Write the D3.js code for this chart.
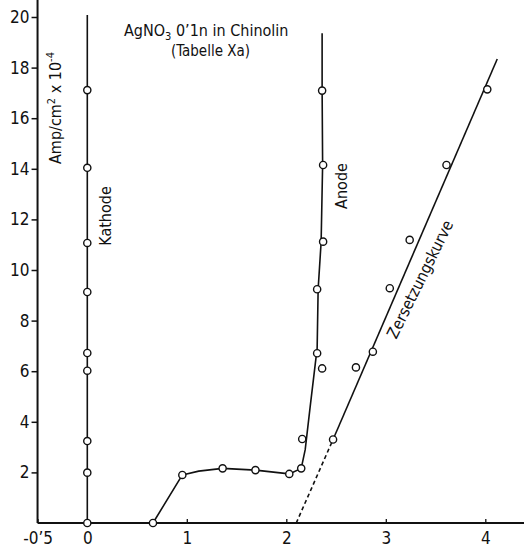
<!DOCTYPE html>
<html>
<head>
<meta charset="utf-8">
<script src="https://cdn.jsdelivr.net/npm/d3@7"></script>
<style>
  body { margin: 0; background: white; }
  svg text { font-family: "DejaVu Sans Condensed", "DejaVu Sans", sans-serif; font-stretch: condensed; fill: #111; }
</style>
</head>
<body>
<div id="graf"></div>
<script>
// Datos (x en Volt, y en Amp/cm2 x 10^-4)
const xTicks = [-0.5, 0, 1, 2, 3, 4]
const xTickLabels = ['-0’5', '0', '1', '2', '3', '4']
const yTicks = [2, 4, 6, 8, 10, 12, 14, 16, 18, 20]

// Kathode
const kathodeLine = [[0, 0], [0, 20.08]]
const kathodePoints = [[0, 17.11], [0, 14.04], [0, 11.07], [0, 9.13], [0, 6.72], [0, 6.02], [0, 3.24], [0, 1.99], [0, 0]]

// Anode (incluye el tramo bajo)
const anodeLine = [[0.66, 0], [0.955, 1.9], [1.12, 2.05], [1.36, 2.16], [1.69, 2.09], [2.03, 1.94], [2.15, 2.16],
  [2.19, 2.9], [2.24, 4.6], [2.29, 6.25], [2.31, 6.9], [2.32, 9.25], [2.35, 11.1], [2.365, 14.15], [2.36, 17.1], [2.36, 19.36]]
const anodePoints = [[0.66, 0], [0.955, 1.9], [1.36, 2.16], [1.69, 2.09], [2.03, 1.94], [2.15, 2.16], [2.16, 3.32],
  [2.31, 6.71], [2.36, 6.11], [2.31, 9.24], [2.37, 11.12], [2.37, 14.15], [2.36, 17.09]]

// Zersetzungskurve
const zersDashed = [[2.1, 0], [2.47, 3.3]]
const zersLine = [[2.47, 3.3], [4.12, 18.34]]
const zersPoints = [[2.47, 3.3], [2.7, 6.15], [2.87, 6.77], [3.04, 9.28], [3.24, 11.19], [3.61, 14.15], [4.02, 17.14]]

const draw = () => {
  const anchoTotal = 524
  const altoTotal = 549

  const svg = d3.select('#graf')
    .append('svg')
    .attr('width', anchoTotal)
    .attr('height', altoTotal)

  // Escaladores
  const x = d3.scaleLinear().domain([0, 4]).range([87.3, 485.3])
  const y = d3.scaleLinear().domain([0, 20]).range([523, 17])

  const line = d3.line().x((d) => x(d[0])).y((d) => y(d[1]))

  // Ejes
  const yAxis = svg.append('g')
    .attr('transform', `translate(${x(-0.5)}, 0)`)
    .call(d3.axisLeft(y).tickValues(yTicks).tickSize(6).tickSizeOuter(0).tickPadding(2))
  yAxis.select('.domain').remove()
  yAxis.selectAll('.tick line').attr('stroke', '#111').attr('stroke-width', 1.5)
  yAxis.selectAll('.tick text').attr('font-size', 17).attr('fill', '#111')

  const xAxis = svg.append('g')
    .attr('transform', `translate(0, ${y(0)})`)
    .call(d3.axisBottom(x).tickValues(xTicks).tickSize(-4).tickSizeOuter(0).tickPadding(9)
      .tickFormat((d, i) => xTickLabels[i]))
  xAxis.select('.domain').remove()
  xAxis.selectAll('.tick line').attr('stroke', '#111').attr('stroke-width', 1.3)
  xAxis.selectAll('.tick text').attr('font-size', 17).attr('fill', '#111')

  // Lineas de ejes
  svg.append('line')
    .attr('x1', x(-0.5)).attr('x2', x(-0.5))
    .attr('y1', y(20.7)).attr('y2', y(0))
    .attr('stroke', '#111').attr('stroke-width', 2)
  svg.append('line')
    .attr('x1', x(-0.5)).attr('x2', anchoTotal)
    .attr('y1', y(0)).attr('y2', y(0))
    .attr('stroke', '#111').attr('stroke-width', 2)

  // Curvas
  const g = svg.append('g')

  g.append('path')
    .datum(kathodeLine)
    .attr('d', line)
    .attr('fill', 'none').attr('stroke', '#111').attr('stroke-width', 1.6)

  g.append('path')
    .datum(anodeLine)
    .attr('d', line)
    .attr('fill', 'none').attr('stroke', '#111').attr('stroke-width', 1.6)
    .attr('stroke-linejoin', 'round')

  g.append('path')
    .datum(zersDashed)
    .attr('d', line)
    .attr('fill', 'none').attr('stroke', '#111').attr('stroke-width', 1.6)
    .attr('stroke-dasharray', '4,3')

  g.append('path')
    .datum(zersLine)
    .attr('d', line)
    .attr('fill', 'none').attr('stroke', '#111').attr('stroke-width', 1.6)

  // Puntos
  const allPoints = kathodePoints.concat(anodePoints, zersPoints)
  g.selectAll('.punto')
    .data(allPoints)
    .enter()
    .append('circle')
    .attr('class', 'punto')
    .attr('cx', (d) => x(d[0]))
    .attr('cy', (d) => y(d[1]))
    .attr('r', 3.6)
    .attr('fill', 'white')
    .attr('stroke', '#111')
    .attr('stroke-width', 1.4)

  // Titulos
  const title = svg.append('text')
    .attr('x', 124)
    .attr('y', 36)
    .attr('font-size', 16)
  title.append('tspan').text('AgNO')
  title.append('tspan').attr('dy', 4).attr('font-size', 11).text('3')
  title.append('tspan').attr('dy', -4).text(' 0’1n in Chinolin')

  svg.append('text')
    .attr('x', 171)
    .attr('y', 56)
    .attr('font-size', 15)
    .text('(Tabelle Xa)')

  // Etiqueta eje Y
  const yLabel = svg.append('text')
    .attr('transform', `translate(61, 108) rotate(-90)`)
    .attr('text-anchor', 'middle')
    .attr('font-size', 16)
  yLabel.append('tspan').text('Amp/cm')
  yLabel.append('tspan').attr('dy', -6).attr('font-size', 11).text('2')
  yLabel.append('tspan').attr('dy', 6).text(' x 10')
  yLabel.append('tspan').attr('dy', -7).attr('font-size', 11).text('-4')

  svg.append('text')
    .attr('transform', `translate(${x(0) + 24}, 216) rotate(-90)`)
    .attr('text-anchor', 'middle')
    .attr('font-size', 16)
    .text('Kathode')

  svg.append('text')
    .attr('transform', `translate(${x(2.36) + 25}, 186) rotate(-90)`)
    .attr('text-anchor', 'middle')
    .attr('font-size', 16)
    .text('Anode')

  // Etiqueta a lo largo de la recta
  const p0 = [x(zersLine[0][0]), y(zersLine[0][1])]
  const p1 = [x(zersLine[1][0]), y(zersLine[1][1])]
  const ang = Math.atan2(p1[1] - p0[1], p1[0] - p0[0]) * 180 / Math.PI
  const t = 0.42
  const cx = p0[0] + (p1[0] - p0[0]) * t + 19
  const cy = p0[1] + (p1[1] - p0[1]) * t
  svg.append('text')
    .attr('transform', `translate(${cx}, ${cy}) rotate(${ang + 3})`)
    .attr('text-anchor', 'middle')
    .attr('dominant-baseline', 'middle')
    .attr('font-size', 16)
    .text('Zersetzungskurve')
}

draw()
</script>
</body>
</html>
